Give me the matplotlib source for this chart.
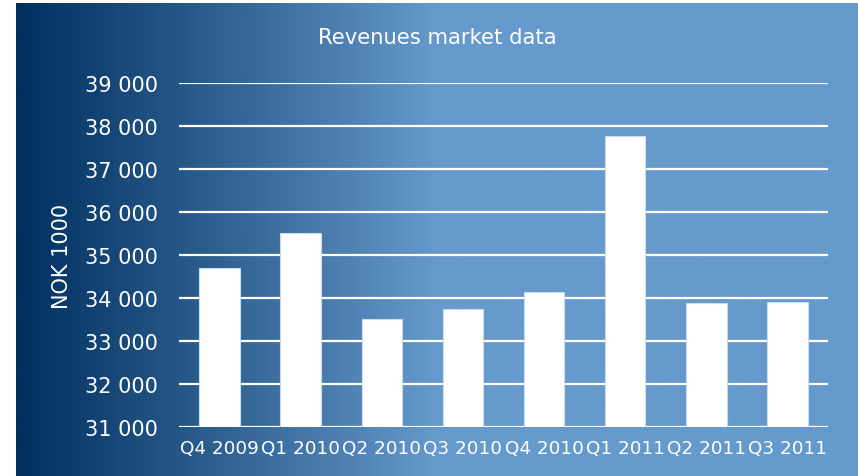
import matplotlib
matplotlib.use("Agg")
import matplotlib.pyplot as plt
import numpy as np
from matplotlib.colors import LinearSegmentedColormap
from matplotlib.ticker import FuncFormatter, MultipleLocator

categories = ["Q4 2009", "Q1 2010", "Q2 2010", "Q3 2010", "Q4 2010",
              "Q1 2011", "Q2 2011", "Q3 2011"]
revenues = [34700, 35510, 33510, 33740, 34140, 37760, 33880, 33910]

W, H = 858, 477
fig = plt.figure(figsize=(W / 100, H / 100), dpi=100)
fig.patch.set_facecolor("white")

# gradient background panel
bg = fig.add_axes([16 / W, 0, (W - 16) / W, (H - 4) / H])
bg.set_axis_off()
cmap = LinearSegmentedColormap.from_list(
    "bgc", [(0.0, "#00305f"), (0.22, "#2a5c8c"), (0.5, "#6699cc"), (1.0, "#6699cc")])
grad = np.linspace(0, 1, 512).reshape(1, -1)
bg.imshow(grad, aspect="auto", cmap=cmap, extent=[0, 1, 0, 1])
bg.set_xlim(0, 1)
bg.set_ylim(0, 1)

ax = fig.add_axes([179 / W, 1 - 428 / H, (828 - 179) / W, (428 - 84) / H])
ax.patch.set_alpha(0)
x = np.arange(len(categories))
ax.bar(x, revenues, width=0.5, color="white", edgecolor="#c8dcf0",
       linewidth=0.8, zorder=3)
ax.set_xlim(-0.5, len(categories) - 0.5)
ax.set_ylim(31000, 39000)
ax.yaxis.set_major_locator(MultipleLocator(1000))
ax.yaxis.set_major_formatter(FuncFormatter(lambda v, p: f"{int(v):,}".replace(",", " ")))
ax.grid(axis="y", color="white", linewidth=1.6, zorder=1)
ax.set_axisbelow(True)
for s in ax.spines.values():
    s.set_visible(False)
ax.set_xticks(x)
ax.set_xticklabels(categories, fontsize=13.2, color="white")
ax.tick_params(axis="y", length=0, pad=15, labelsize=15, labelcolor="white")
ax.tick_params(axis="x", length=0, pad=9)
ax.set_ylabel("NOK 1000", fontsize=15, color="white")
ax.yaxis.set_label_coords((72 - 179) / 649, 0.5)

fig.text((16 + W) / 2 / W, 1 - 38 / H, "Revenues market data", ha="center",
         va="center", fontsize=15.2, color="white")

fig.savefig("out.png", dpi=100)
